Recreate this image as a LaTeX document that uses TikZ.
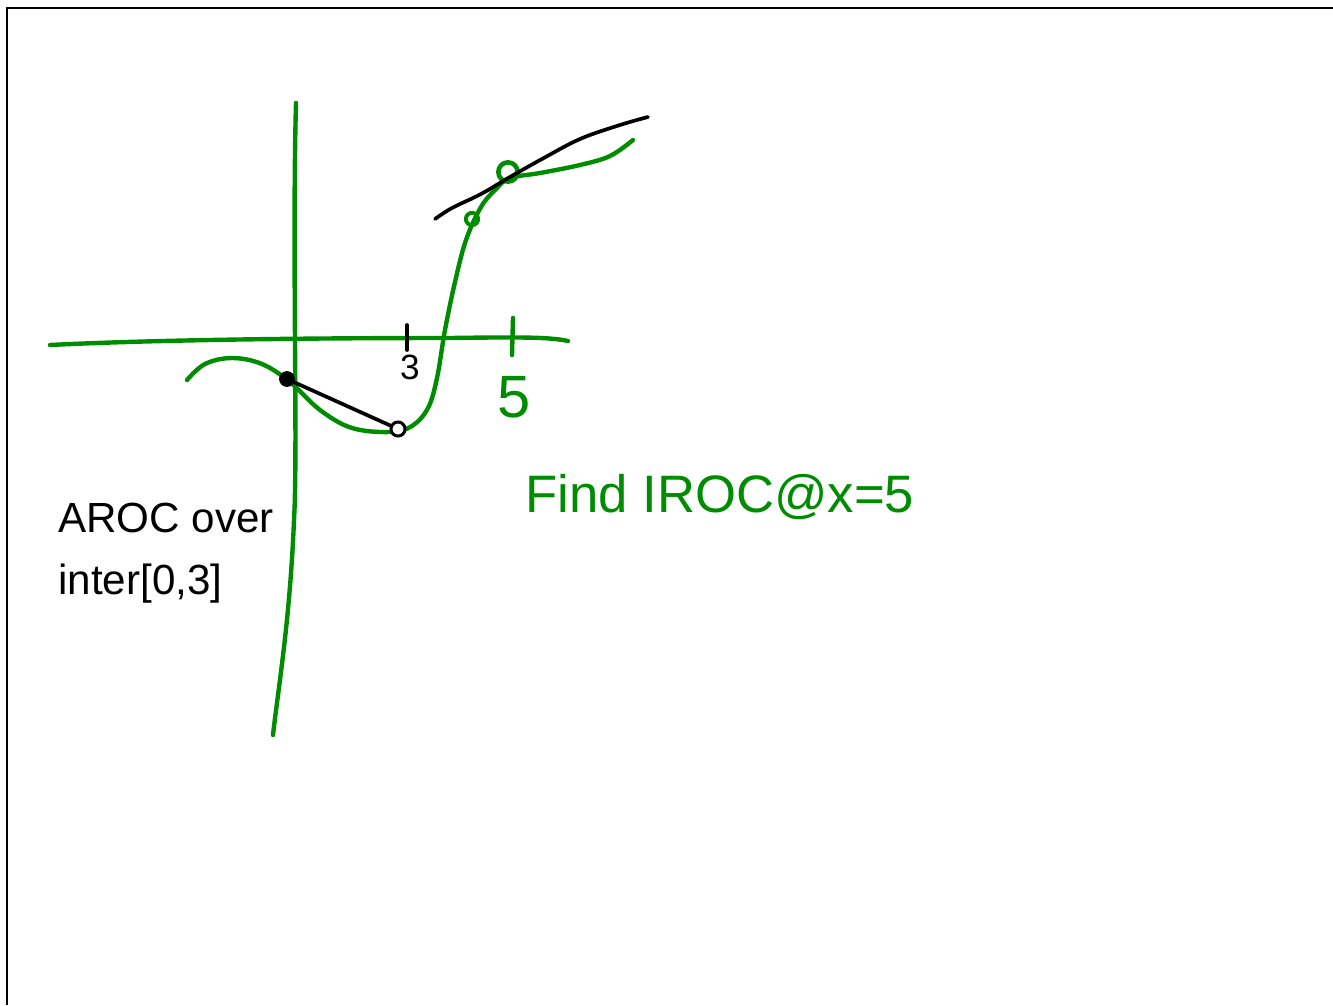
\documentclass[tikz,border=0pt]{standalone}
\usepackage{fontspec}
\setsansfont{Liberation Sans}
\usepackage{tikz}
\usetikzlibrary{arrows.meta}

\begin{document}
\begin{tikzpicture}[
  x=0.02cm, y=-0.02cm,
  frame/.style={line width=1.2pt, black},
  axis/.style={line width=2.5pt, green!55!black, line cap=round},
  curve/.style={line width=2.5pt, green!55!black, line cap=round},
  chord/.style={line width=2.1pt, black, line cap=round},
  pen/.style={font=\sffamily\fontsize{24}{28}\selectfont, inner sep=0pt},
  every node/.style={font=\sffamily}
]
  % page and its frame, in pixel units
  \useasboundingbox (0,0) rectangle (1333,1005);
  \draw[frame] (7,1005) -- (7,8) -- (1333,8);

  % axes
  \coordinate (yTop) at (296,103);
  \coordinate (yBot) at (273,735);
  \coordinate (xLeft) at (50,345);
  \coordinate (xRight) at (568,341);
  \draw[axis] (yTop) .. controls (292,250) and (298,450) .. (294,520)
    .. controls (290,620) and (278,690) .. (yBot);
  \draw[axis] (xLeft) .. controls (150,340) and (300,338) .. (450,338)
    .. controls (520,337) and (550,337) .. (xRight);

  % ticks and their labels
  \draw[axis] (513,318) -- (512,355);
  \draw[chord] (407,325) -- (407,350);
  \node[pen, font=\sffamily\fontsize{20}{24}\selectfont] (three) at (410,367) {3};
  \node[pen, text=green!55!black, font=\sffamily\fontsize{34}{38}\selectfont] (five) at (514,397) {5};

  % the function
  \draw[curve] plot[smooth, tension=0.6] coordinates {
    (187,380) (205,364) (232,358) (262,364) (290,382) (320,410)
    (352,428) (390,432) (412,426) (428,408) (437,378) (445,330)
    (455,282) (466,240) (481,207) (496,189) (510,178) (540,173)
    (580,165) (610,156) (633,140)};

  % points on the graph near x=5
  \node[draw=green!55!black, line width=2.2pt, circle, minimum size=7pt, inner sep=0pt] (near) at (472,219) {};
  \node[draw=green!55!black, line width=2.6pt, circle, minimum size=11pt, inner sep=0pt] (five pt) at (508,172) {};

  % tangent at x=5
  \draw[chord] plot[smooth, tension=0.6] coordinates {
    (435,219) (452,208) (481,194) (510,177) (542,159) (580,139) (620,125) (648,117)};

  % secant over [0,3]
  \node[circle, fill=black, minimum size=9pt, inner sep=0pt] (origin pt) at (287,379) {};
  \node[circle, draw=black, line width=1.7pt, fill=white, minimum size=8pt, inner sep=0pt] (three pt) at (398,429) {};
  \draw[chord] (origin pt) -- (three pt);

  % notes
  \node[pen, anchor=west] (aroc) at (58,518) {AROC over};
  \node[pen, anchor=west] (inter) at (58,584) {inter[0,3]};
  \node[pen, anchor=west, text=green!55!black, font=\sffamily\fontsize{30}{34}\selectfont] (iroc) at (525,497) {Find IROC@x=5};
\end{tikzpicture}
\end{document}
